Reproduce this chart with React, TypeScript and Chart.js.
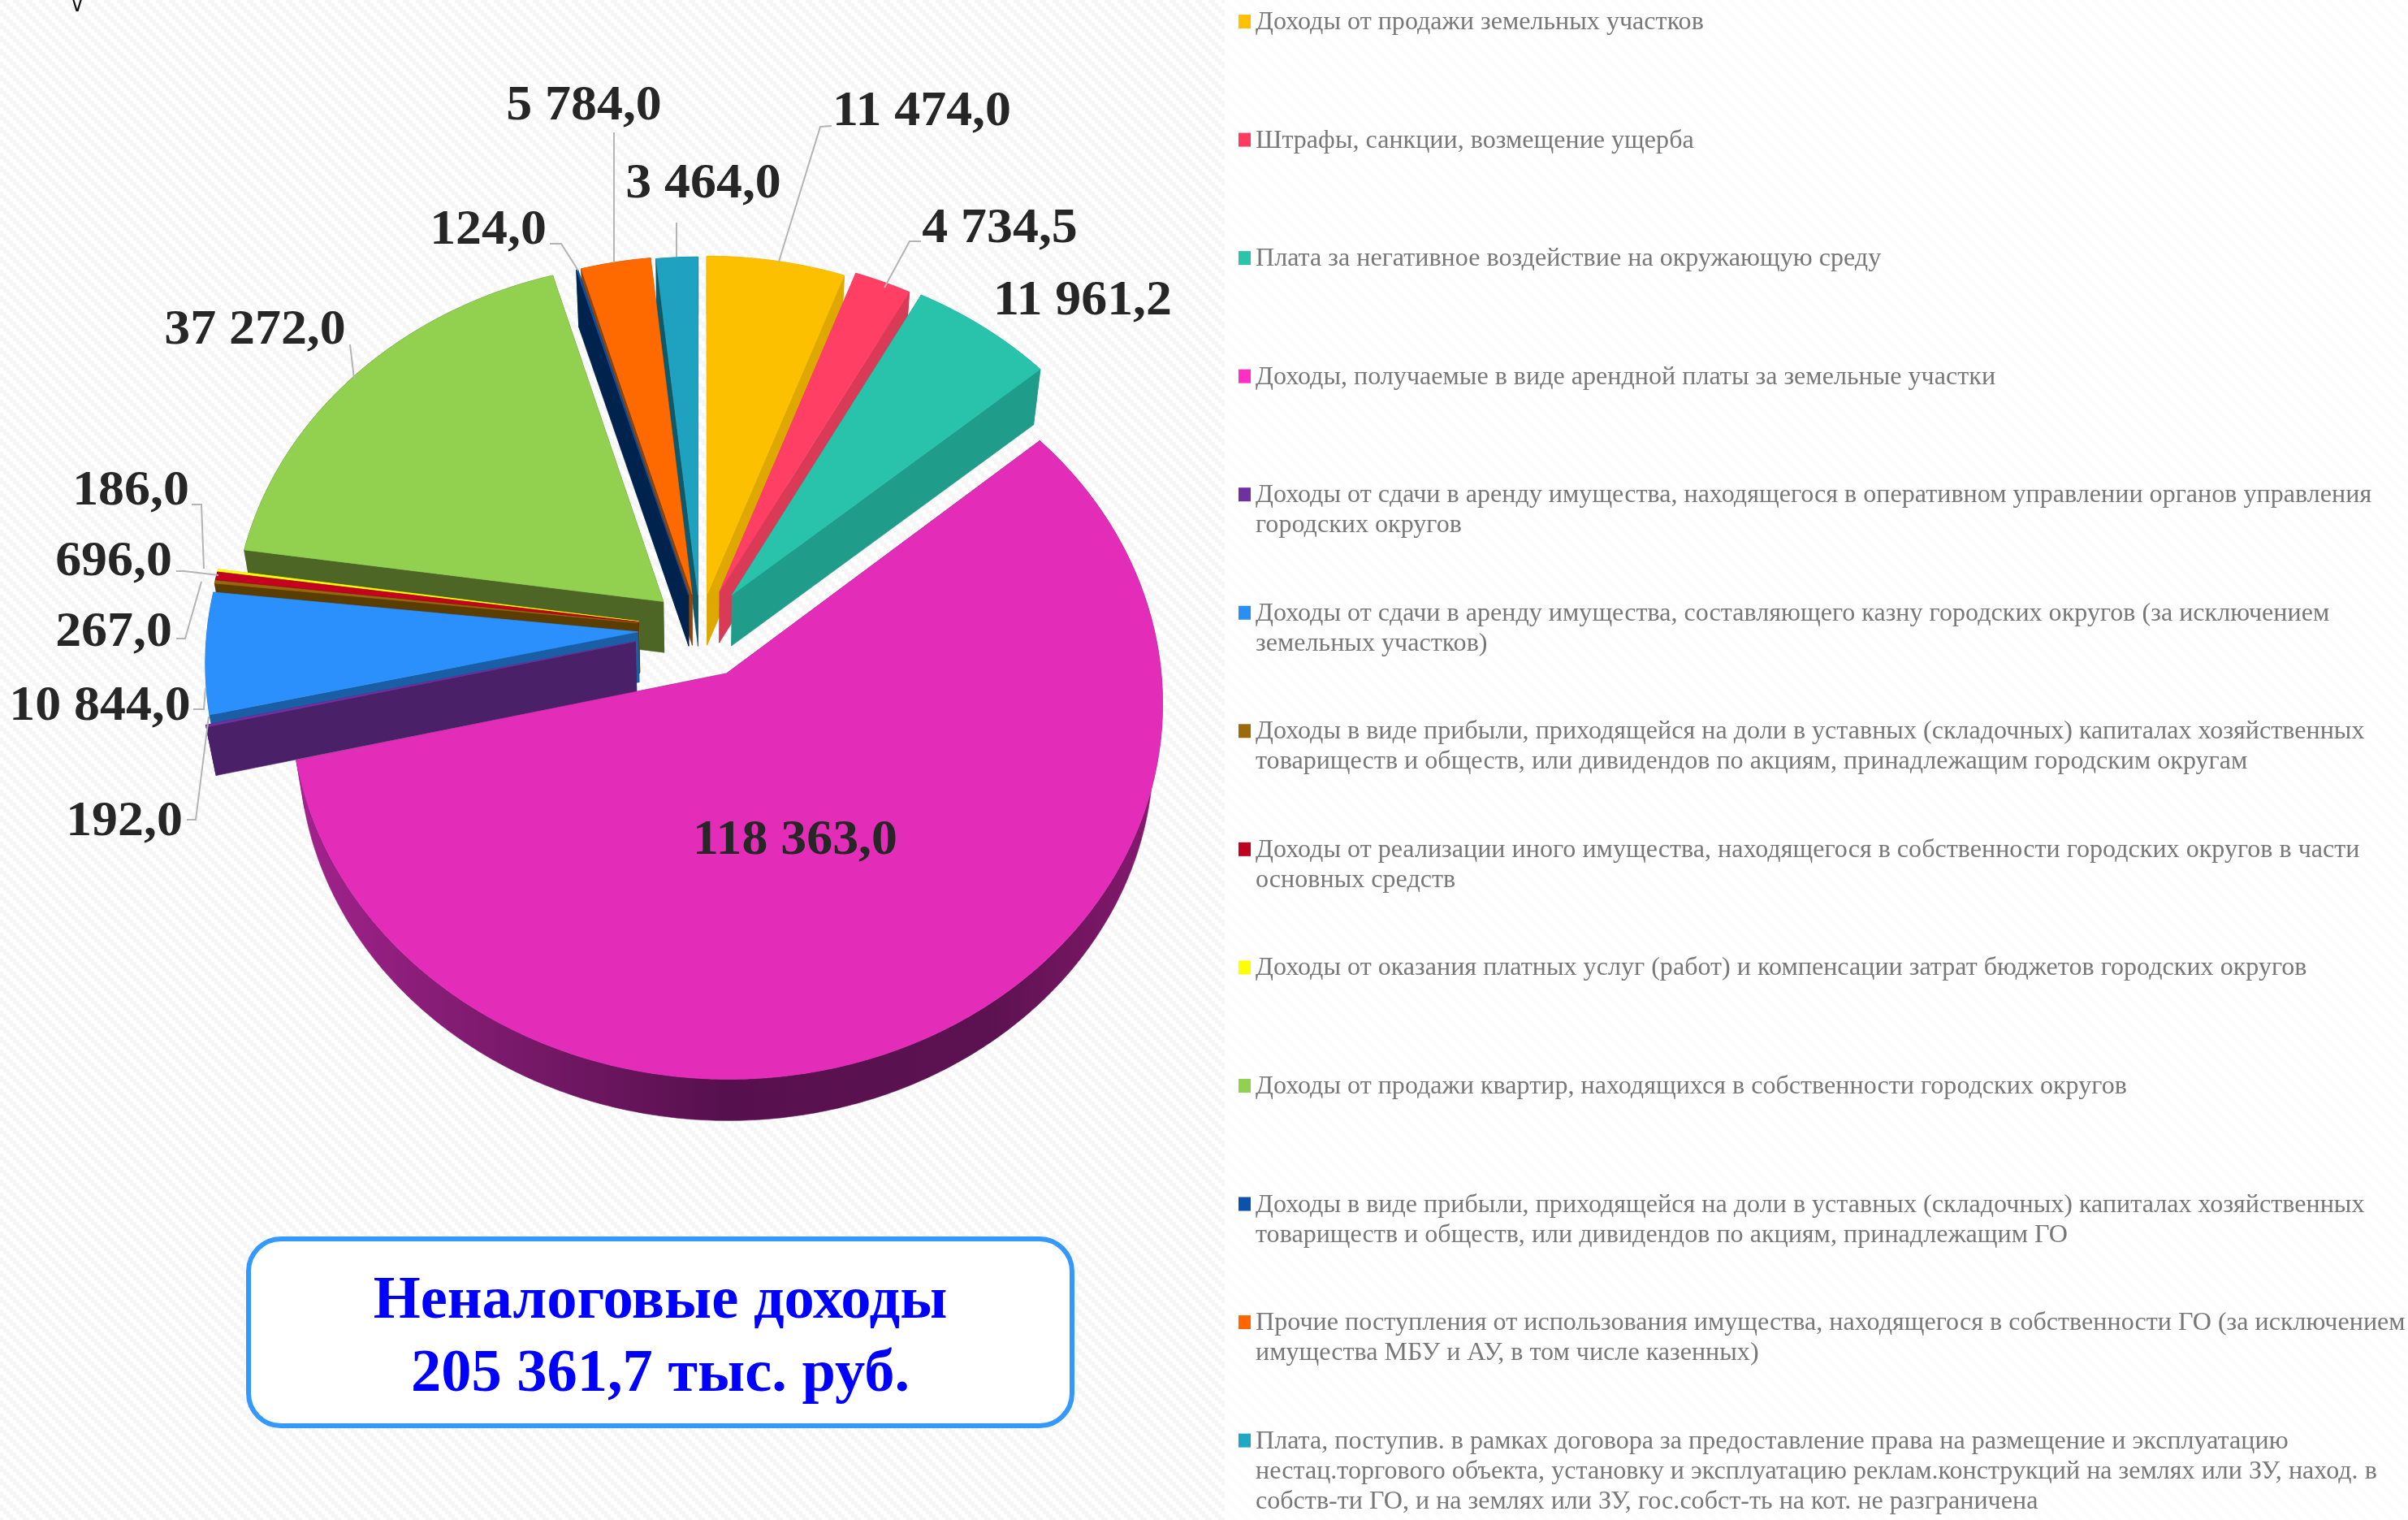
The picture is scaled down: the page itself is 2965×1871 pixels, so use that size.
import React, { useEffect, useRef } from "react";
import { Chart, registerables } from "chart.js";

Chart.register(...registerables);

const categories = [
  "Доходы от продажи земельных участков",
  "Штрафы, санкции, возмещение ущерба",
  "Плата за негативное воздействие на окружающую среду",
  "Доходы, получаемые в виде арендной платы за земельные участки",
  "Доходы от сдачи в аренду имущества, находящегося в оперативном управлении органов управления\nгородских округов",
  "Доходы от сдачи в аренду имущества, составляющего казну городских округов (за исключением\nземельных участков)",
  "Доходы в виде прибыли, приходящейся на доли в уставных (складочных) капиталах хозяйственных\nтовариществ и обществ, или дивидендов по акциям, принадлежащим городским округам",
  "Доходы от реализации иного имущества, находящегося в собственности городских округов в части\nосновных средств",
  "Доходы от оказания платных услуг (работ) и компенсации затрат бюджетов городских округов",
  "Доходы от продажи квартир, находящихся в собственности городских округов",
  "Доходы в виде прибыли, приходящейся на доли в уставных (складочных) капиталах хозяйственных\nтовариществ и обществ, или дивидендов по акциям, принадлежащим ГО",
  "Прочие поступления от использования имущества, находящегося в собственности ГО (за исключением\nимущества МБУ и АУ, в том числе казенных)",
  "Плата, поступив. в рамках договора за предоставление права на размещение и эксплуатацию\nнестац.торгового объекта, установку и эксплуатацию реклам.конструкций на землях или ЗУ, наход. в\nсобств-ти ГО, и на землях или ЗУ, гос.собст-ть на кот. не разграничена",
];
const values = [11474, 4734.5, 11961.2, 118363, 192, 10844, 267, 696, 186, 37272, 124, 5784, 3464];
const valueLabels = ["11 474,0", "4 734,5", "11 961,2", "118 363,0", "192,0", "10 844,0", "267,0", "696,0", "186,0", "37 272,0", "124,0", "5 784,0", "3 464,0"];
const topColors = ["#fcc000", "#ff3f64", "#29c2ab", "#e32db8", "#7030a0", "#2b90fc", "#99660e", "#c60020", "#ffff00", "#92d050", "#0a55b0", "#ff6a00", "#1fa2bf"];
const wallColors = ["#dea800", "#d93a56", "#209c8a", "#6a1560", "#4a2068", "#1a5ea6", "#5a3d00", "#7a0012", "#b5b500", "#4d6626", "#00234e", "#8a4510", "#0f5a6a"];
const legendColors = ["#ffc000", "#ff3a61", "#29c4a9", "#ff2ec4", "#7030a0", "#2a8ff5", "#9c6a0a", "#c00020", "#ffff00", "#92d050", "#0b52ae", "#ff6600", "#1fa8c4"];
const explode = [50, 58, 62, 70, 80, 75, 75, 75, 75, 59, 50, 50, 48];
const titleLines = ["Неналоговые доходы", "205 361,7 тыс. руб."];

// label centre and leader polyline per slice (page layout, not data)
const labelCentres = [[1135, 134], [1231, 278], [1333, 367], [979, 1031], [153, 1008], [123, 866], [140, 775], [140, 688], [161, 601], [314, 403], [601, 280], [719, 127], [866, 223]];
const leaders: number[][][] = [
  [[1024, 155], [1010, 156], [959, 322]],
  [[1134, 297], [1120, 297], [1089, 354]],
  [],
  [],
  [[230, 1009], [241, 1009], [257, 882]],
  [[238, 873], [251, 873], [253, 847]],
  [[217, 786], [228, 786], [248, 716]],
  [[217, 703], [227, 703], [269, 708]],
  [[236, 621], [248, 621], [251, 700]],
  [[431, 424], [436, 466]],
  [[677, 300], [691, 300], [712, 333]],
  [[756, 163], [756, 322]],
  [[833, 274], [833, 316]],
];

const W = 2965, H = 1871;
const CX = 862, CY = 774, R = 520;
const P = 0.075, Q = 0.872, XS = 1.02, DEPTH_SCALE = 0.98, DEPTH = 62;
const LEGEND_X = 1546, LEGEND_MARK_X = 1525, LEGEND_TOP = 27, LEGEND_PITCH = 145.55, LEGEND_LINE = 37;
const LEGEND_FONT = 32, LEGEND_SX = 1.003, LABEL_FONT = 62, LABEL_SX = 1.03, TITLE_FONT = 75, TITLE_SX = 0.993;

function project(px: number, py: number) {
  const w = 1 - (P * py) / R;
  return [CX + (XS * px) / w, CY + (Q * py) / w];
}
function lower(p: number[]) {
  return [CX + DEPTH_SCALE * (p[0] - CX), CY + DEPTH_SCALE * (p[1] - CY) + DEPTH];
}
function poly(ctx: CanvasRenderingContext2D, pts: number[][], fill: any) {
  ctx.beginPath();
  pts.forEach((p, i) => (i ? ctx.lineTo(p[0], p[1]) : ctx.moveTo(p[0], p[1])));
  ctx.closePath();
  ctx.fillStyle = fill;
  ctx.strokeStyle = fill;
  ctx.lineWidth = 0.6;
  ctx.fill();
  ctx.stroke();
}

function makePattern(ctx: CanvasRenderingContext2D, a: string, b: string) {
  const c = document.createElement("canvas");
  c.width = 16;
  c.height = 16;
  const g = c.getContext("2d")!;
  g.fillStyle = a;
  g.fillRect(0, 0, 16, 16);
  g.fillStyle = b;
  for (let j = 0; j < 4; j++) {
    for (let i = 0; i < 4; i++) {
      if ((((i - j) % 4) + 4) % 4 < 2) g.fillRect(i * 4, j * 4, 4, 4);
    }
  }
  return ctx.createPattern(c, "repeat")!;
}

function sx(ctx: CanvasRenderingContext2D, text: string, x: number, y: number, scale: number, align: "left" | "center") {
  ctx.save();
  ctx.translate(x, y);
  ctx.scale(scale, 1);
  ctx.textAlign = align;
  ctx.fillText(text, 0, 0);
  ctx.restore();
}

const backdrop = {
  id: "backdrop",
  beforeDraw(chart: any) {
    const ctx = chart.ctx;
    ctx.save();
    ctx.fillStyle = makePattern(ctx, "#ffffff", "#f6f6f6");
    ctx.fillRect(0, 0, 1508, H);
    ctx.fillStyle = makePattern(ctx, "#ffffff", "#fdfdfd");
    ctx.fillRect(1508, 0, W - 1508, H);
    ctx.restore();
  },
};

const pie3d = {
  id: "pie3d",
  beforeDatasetDraw(chart: any) {
    const ctx: CanvasRenderingContext2D = chart.ctx;
    const arcs = chart.getDatasetMeta(0).data as any[];
    const order = arcs
      .map((a, i) => ({ a, i, m: (a.startAngle + a.endAngle) / 2 }))
      .sort((p, q) => Math.sin(p.m) - Math.sin(q.m));
    ctx.save();
    order.forEach(({ a, i, m }) => {
      const off = a.options.offset || 0;
      const ox = off * Math.cos(m), oy = off * Math.sin(m);
      const steps = Math.max(2, Math.ceil((a.endAngle - a.startAngle) / 0.01));
      const rim: number[][] = [];
      for (let k = 0; k <= steps; k++) {
        const t = a.startAngle + ((a.endAngle - a.startAngle) * k) / steps;
        rim.push(project(ox + a.outerRadius * Math.cos(t), oy + a.outerRadius * Math.sin(t)));
      }
      const apex = project(ox, oy);
      const rimLow = rim.map(lower);
      const apexLow = lower(apex);
      let wall: any = wallColors[i];
      if (i === 3) {
        const g = ctx.createLinearGradient(340, 0, 1440, 0);
        g.addColorStop(0, "#a62490");
        g.addColorStop(0.25, "#7b1a6c");
        g.addColorStop(0.5, "#57104e");
        g.addColorStop(0.8, "#5c1250");
        g.addColorStop(1, "#8a1a72");
        wall = g;
      }
      poly(ctx, [apex, rim[0], rimLow[0], apexLow], wallColors[i]);
      poly(ctx, [apex, rim[rim.length - 1], rimLow[rimLow.length - 1], apexLow], wallColors[i]);
      poly(ctx, [...rim, ...rimLow.slice().reverse()], wall);
      poly(ctx, [apex, ...rim], a.options.backgroundColor);
    });
    ctx.restore();
    return false;
  },
  afterDraw(chart: any) {
    const ctx: CanvasRenderingContext2D = chart.ctx;
    ctx.save();
    ctx.strokeStyle = "#b4b4b4";
    ctx.lineWidth = 2;
    leaders.forEach((l) => {
      if (!l.length) return;
      ctx.beginPath();
      l.forEach((p, i) => (i ? ctx.lineTo(p[0], p[1]) : ctx.moveTo(p[0], p[1])));
      ctx.stroke();
    });
    ctx.fillStyle = "#262626";
    ctx.font = `bold ${LABEL_FONT}px "Liberation Serif"`;
    ctx.textBaseline = "alphabetic";
    valueLabels.forEach((t, i) => {
      sx(ctx, t, labelCentres[i][0], labelCentres[i][1] + 20, LABEL_SX, "center");
    });
    ctx.font = `${LEGEND_FONT}px "Liberation Serif"`;
    categories.forEach((c, i) => {
      const y = LEGEND_TOP + i * LEGEND_PITCH;
      ctx.fillStyle = legendColors[i];
      ctx.fillRect(LEGEND_MARK_X, y - 9, 15, 17);
      ctx.fillStyle = "#787878";
      c.split("\n").forEach((line, j) => {
        sx(ctx, line, LEGEND_X, y + 9 + j * LEGEND_LINE, LEGEND_SX, "left");
      });
    });
    ctx.beginPath();
    ctx.roundRect(306, 1525, 1014, 230, 40);
    ctx.fillStyle = "#ffffff";
    ctx.fill();
    ctx.lineWidth = 6;
    ctx.strokeStyle = "#3399ff";
    ctx.stroke();
    ctx.fillStyle = "#0000ff";
    ctx.font = `bold ${TITLE_FONT}px "Liberation Serif"`;
    sx(ctx, titleLines[0], 813, 1622, TITLE_SX, "center");
    sx(ctx, titleLines[1], 813, 1712, TITLE_SX, "center");
    ctx.fillStyle = "#111111";
    ctx.font = `24px "DejaVu Sans"`;
    ctx.textAlign = "center";
    ctx.fillText("∨", 95, 14);
    ctx.restore();
  },
};

export default function App() {
  const ref = useRef<HTMLCanvasElement>(null);
  useEffect(() => {
    const chart = new Chart(ref.current!, {
      type: "pie",
      data: {
        labels: categories,
        datasets: [{ data: values, backgroundColor: topColors, offset: explode, borderWidth: 0 }],
      },
      options: {
        animation: false,
        responsive: false,
        radius: R,
        layout: { padding: { left: 0, top: 0, right: W - 2 * CX, bottom: H - 2 * CY } },
        plugins: { legend: { display: false }, tooltip: { enabled: false }, title: { display: false } },
      } as any,
      plugins: [backdrop, pie3d],
    });
    return () => chart.destroy();
  }, []);
  return (
    <div style={{ position: "absolute", left: 0, top: 0, width: W, height: H }}>
      <canvas ref={ref} width={W} height={H} style={{ display: "block" }} />
    </div>
  );
}
